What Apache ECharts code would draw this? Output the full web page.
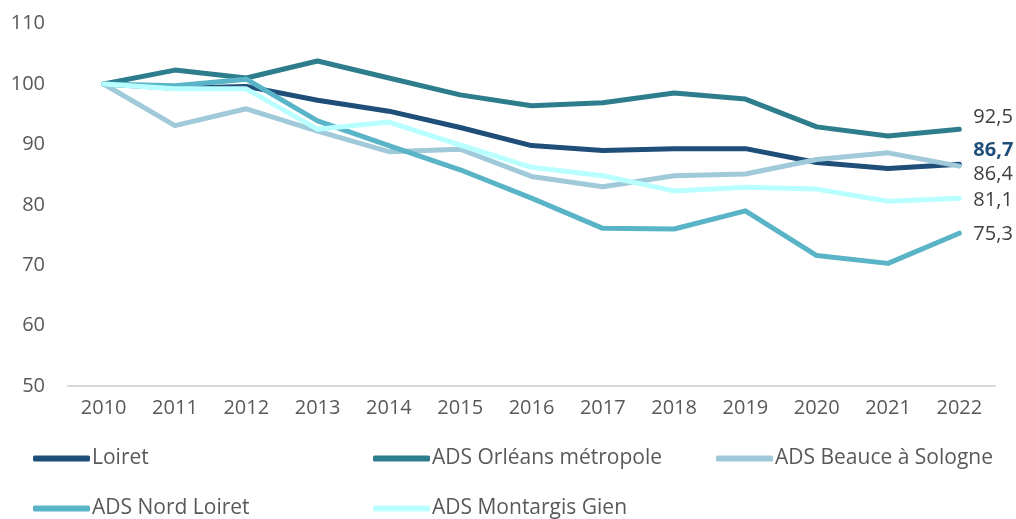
<!DOCTYPE html>
<html>
<head>
<meta charset="utf-8">
<script src="https://cdn.jsdelivr.net/npm/echarts@6/dist/echarts.min.js"></script>
<style>
  html, body { margin: 0; padding: 0; background: #ffffff; }
  #chart { width: 1016px; height: 519px; }
</style>
</head>
<body>
<div id="chart"></div>
<script>
// Index base 100 in 2010
const years = ['2010','2011','2012','2013','2014','2015','2016','2017','2018','2019','2020','2021','2022'];

const loiret      = [100, 99.3, 99.6, 97.3, 95.5, 92.8, 89.8, 89.0, 89.3, 89.3, 87.0, 86.0, 86.7];
const orleans     = [100, 102.3, 101.0, 103.8, 101.0, 98.2, 96.4, 96.9, 98.5, 97.5, 92.9, 91.4, 92.5];
const beauce      = [100, 93.1, 95.9, 92.2, 88.8, 89.2, 84.7, 83.0, 84.8, 85.1, 87.5, 88.6, 86.4];
const nordLoiret  = [100, 99.7, 100.8, 93.9, 89.8, 85.8, 81.1, 76.1, 76.0, 79.0, 71.6, 70.3, 75.3];
const montargis   = [100, 99.2, 99.2, 92.5, 93.7, 89.9, 86.2, 84.8, 82.3, 82.9, 82.6, 80.6, 81.1];

const names = ['Loiret', 'ADS Orléans métropole', 'ADS Beauce à Sologne', 'ADS Nord Loiret', 'ADS Montargis Gien'];
const values = [loiret, orleans, beauce, nordLoiret, montargis];
const colors = ['#1F4E79', '#2E7D8C', '#A0C9D9', '#5AB4C7', '#B9FFFF'];

// vertical nudge of each end-of-line value so the labels do not collide
const endOffsets = [-14, -12, 8, 1, 2];

const FONT = 'Open Sans';

const series = names.map((name, i) => ({
  name: name,
  type: 'line',
  data: values[i],
  symbol: 'none',
  lineStyle: { width: 5, color: colors[i], cap: 'round', join: 'round' },
  itemStyle: { color: colors[i] },
  emphasis: { disabled: true },
  endLabel: {
    show: true,
    distance: 0,
    offset: [14, endOffsets[i]],
    formatter: p => String(p.value).replace('.', ','),
    fontFamily: FONT,
    fontSize: 20,
    color: i === 0 ? '#1F4E79' : '#404040',
    fontWeight: i === 0 ? 'bold' : 'normal'
  }
}));

// one legend block per entry, arranged in a three-column grid
const legendSpots = [[33, 448], [373, 448], [716, 448], [33, 498], [373, 498]];
const legends = names.map((name, i) => ({
  data: [name],
  left: legendSpots[i][0],
  top: legendSpots[i][1],
  icon: 'roundRect',
  itemWidth: 57,
  itemHeight: 6,
  itemGap: 0,
  padding: 0,
  selectedMode: false,
  textStyle: { fontFamily: FONT, fontSize: 21, color: '#595959', padding: [0, 0, 0, -3] }
}));

const chart = echarts.init(document.getElementById('chart'), null, { renderer: 'canvas' });
chart.setOption({
  animation: false,
  color: colors,
  legend: legends,
  grid: { left: 68, right: 21, top: 23.6, bottom: 133, containLabel: false },
  xAxis: {
    type: 'category',
    data: years,
    boundaryGap: true,
    axisLine: { show: true, lineStyle: { color: '#D9D9D9', width: 2 } },
    axisTick: { show: false },
    axisLabel: { fontFamily: FONT, fontSize: 20, color: '#595959', margin: 12 }
  },
  yAxis: {
    type: 'value',
    min: 50,
    max: 110,
    interval: 10,
    axisLine: { show: false },
    axisTick: { show: false },
    splitLine: { show: false },
    axisLabel: { fontFamily: FONT, fontSize: 20, color: '#595959', margin: 23 }
  },
  series: series
});
</script>
</body>
</html>
